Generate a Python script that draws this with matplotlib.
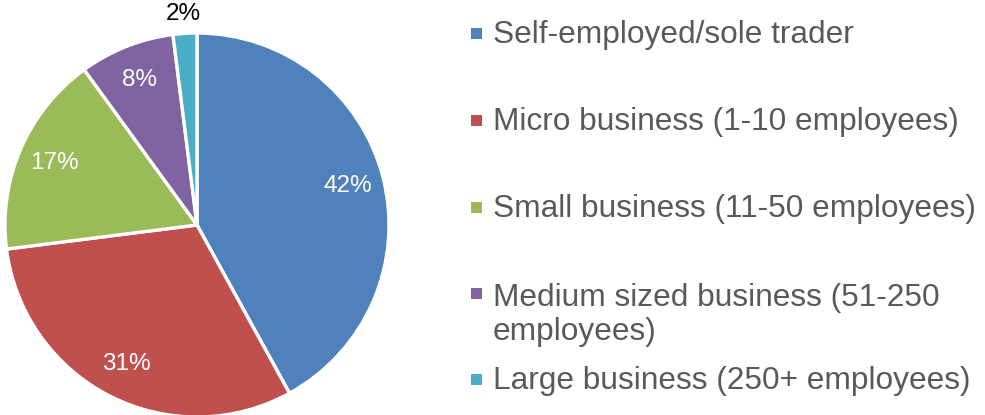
import matplotlib
matplotlib.use("Agg")
import matplotlib.pyplot as plt
from matplotlib.patches import Rectangle

categories = [
    "Self-employed/sole trader",
    "Micro business (1-10 employees)",
    "Small business (11-50 employees)",
    "Medium sized business (51-250\nemployees)",
    "Large business (250+ employees)",
]
shares = [42, 31, 17, 8, 2]
colors = ["#4F81BD", "#C0504D", "#9BBB59", "#8064A2", "#4BACC6"]

plt.rcParams["font.family"] = ["Liberation Sans", "DejaVu Sans"]

W, H = 985, 415
fig = plt.figure(figsize=(W / 100, H / 100), dpi=100)

# pie axes: centre (197, 225) px, radius 192 px
cx, cy, r = 197, 225, 192
ax = fig.add_axes([(cx - r) / W, (H - cy - r) / H, 2 * r / W, 2 * r / H])
wedges, _, autotexts = ax.pie(
    shares,
    colors=colors,
    startangle=90,
    counterclock=False,
    autopct=lambda p: f"{p:.0f}%",
    pctdistance=0.81,
    wedgeprops=dict(edgecolor="white", linewidth=2.4),
    textprops=dict(color="white", fontsize=17.5),
)
ax.set_xlim(-1, 1)
ax.set_ylim(-1, 1)
ax.set_aspect("auto")

# the smallest slice gets its label outside the pie
small = autotexts[-1]
x, y = small.get_position()
small.set_position((x * 1.1 / 0.81, y * 1.1 / 0.81))
small.set_color("black")
for t in autotexts:
    t.set_clip_on(False)

# legend drawn as squares and text in pixel positions
text_x = 493
line_gap = 37
row_baselines = [43, 130, 217, 303, 389]
for label, col, base in zip(categories, colors, row_baselines):
    last_base = base + label.count("\n") * line_gap
    fig.text(text_x / W, 1 - last_base / H, label, fontsize=22.8, color="#595959",
             ha="left", va="baseline", linespacing=1.18)
    fig.patches.append(Rectangle((471 / W, 1 - (base - 4) / H), 11 / W, 11 / H,
                                 transform=fig.transFigure, facecolor=col,
                                 edgecolor="none"))

fig.savefig("out.png", dpi=100)
